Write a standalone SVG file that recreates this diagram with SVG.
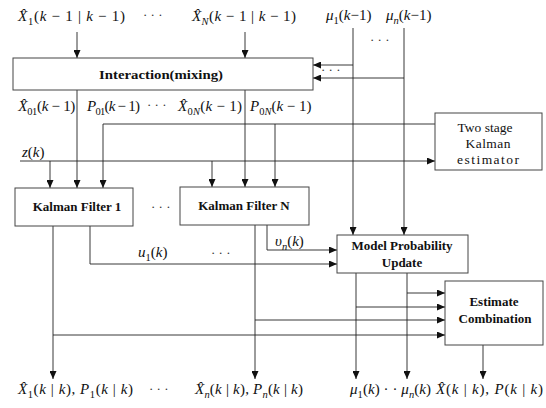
<svg xmlns="http://www.w3.org/2000/svg" width="546" height="408" viewBox="0 0 546 408">
<style>
.bx{fill:#fff;stroke:#444;stroke-width:1}
.ln{fill:none;stroke:#222;stroke-width:0.9}
.b{font-family:"Liberation Serif",serif;font-size:13px;font-weight:bold;fill:#111;text-anchor:middle}
.r{font-family:"Liberation Serif",serif;font-size:13.5px;fill:#111;text-anchor:middle}
.m{font-family:"Liberation Serif",serif;font-size:15px;fill:#111}
.i{font-style:italic}
.s{font-size:10.5px}
.d{font-family:"Liberation Serif",serif;font-size:13px;fill:#333}
</style>
<defs>
<marker id="a" viewBox="0 0 8 7" refX="8" refY="3.5" markerWidth="8" markerHeight="7" orient="auto" markerUnits="userSpaceOnUse">
<path d="M0,0 L8,3.5 L0,7 z" fill="#111"/>
</marker>
</defs>
<rect width="546" height="408" fill="#fff"/>

<g id="connectors">
<path class="ln" d="M77,32 V58" marker-end="url(#a)"/>
<path class="ln" d="M245,32 V58" marker-end="url(#a)"/>
<path class="ln" d="M353,28 V235" marker-end="url(#a)"/>
<path class="ln" d="M404,28 V235" marker-end="url(#a)"/>
<path class="ln" d="M353,65 H313" marker-end="url(#a)"/>
<path class="ln" d="M404,78 H313" marker-end="url(#a)"/>
<path class="ln" d="M77,90 V188" marker-end="url(#a)"/>
<path class="ln" d="M245,90 V187" marker-end="url(#a)"/>
<path class="ln" d="M103,124 H435"/>
<path class="ln" d="M103,124 V188" marker-end="url(#a)"/>
<path class="ln" d="M275,124 V187" marker-end="url(#a)"/>
<path class="ln" d="M20,161 H435" marker-end="url(#a)"/>
<path class="ln" d="M50,161 V188" marker-end="url(#a)"/>
<path class="ln" d="M212,161 V187" marker-end="url(#a)"/>
<path class="ln" d="M53,226 V379" marker-end="url(#a)"/>
<path class="ln" d="M53,335 H445" marker-end="url(#a)"/>
<path class="ln" d="M90,226 V264 H337" marker-end="url(#a)"/>
<path class="ln" d="M255,225 V379" marker-end="url(#a)"/>
<path class="ln" d="M255,320 H445" marker-end="url(#a)"/>
<path class="ln" d="M267,225 V250 H337" marker-end="url(#a)"/>
<path class="ln" d="M356,273 V379" marker-end="url(#a)"/>
<path class="ln" d="M356,307 H445" marker-end="url(#a)"/>
<path class="ln" d="M407,273 V379" marker-end="url(#a)"/>
<path class="ln" d="M407,293 H445" marker-end="url(#a)"/>
<path class="ln" d="M483,345 V379" marker-end="url(#a)"/>
</g>

<g id="interaction">
<rect class="bx" x="13" y="58" width="300" height="32"/>
<text class="b" x="161" y="79" font-size="14.5" textLength="124" lengthAdjust="spacingAndGlyphs">Interaction(mixing)</text>
</g>
<g id="two-stage">
<rect class="bx" x="435" y="113" width="107" height="57"/>
<text class="r" x="485" y="132">Two stage</text>
<text class="r" x="488" y="148" textLength="45" lengthAdjust="spacing">Kalman</text>
<text class="r" x="488" y="164" textLength="62" lengthAdjust="spacing">estimator</text>
</g>
<g id="kf1">
<rect class="bx" x="15" y="188" width="118" height="38"/>
<text class="b" x="77" y="211" font-size="13.5">Kalman Filter 1</text>
</g>
<g id="kfn">
<rect class="bx" x="180" y="187" width="129" height="38"/>
<text class="b" x="244" y="210" font-size="13.5">Kalman Filter N</text>
</g>
<g id="mpu">
<rect class="bx" x="337" y="235" width="131" height="38"/>
<text class="b" x="402" y="250" font-size="14">Model Probability</text>
<text class="b" x="402" y="267" font-size="14">Update</text>
</g>
<g id="ec">
<rect class="bx" x="445" y="281" width="98" height="64"/>
<text class="b" x="494" y="306" font-size="14">Estimate</text>
<text class="b" x="495" y="323" font-size="14">Combination</text>
</g>

<g id="labels">
<text class="m" x="18" y="21" textLength="107" lengthAdjust="spacing"><tspan class="i">X̂</tspan><tspan class="s" dy="4">1</tspan><tspan dy="-4">(</tspan><tspan class="i">k</tspan> − 1 | <tspan class="i">k</tspan> − 1)</text>
<text class="d" x="143" y="19">· · ·</text>
<text class="m" x="192" y="21" textLength="104" lengthAdjust="spacing"><tspan class="i">X̂</tspan><tspan class="s i" dy="4">N</tspan><tspan dy="-4">(</tspan><tspan class="i">k</tspan> − 1 | <tspan class="i">k</tspan> − 1)</text>
<text class="m" x="326" y="20"><tspan class="i">μ</tspan><tspan class="s" dy="4">1</tspan><tspan dy="-4">(</tspan><tspan class="i">k</tspan>−1)</text>
<text class="m" x="386" y="20"><tspan class="i">μ</tspan><tspan class="s i" dy="4">n</tspan><tspan dy="-4">(</tspan><tspan class="i">k</tspan>−1)</text>
<text class="d" x="370" y="44">· · ·</text>
<text class="d" x="321" y="74">· · ·</text>

<text class="m" x="18" y="111" textLength="57" lengthAdjust="spacing"><tspan class="i">X̂</tspan><tspan class="s" dy="4">01</tspan><tspan dy="-4">(</tspan><tspan class="i">k</tspan> − 1)</text>
<text class="m" x="87" y="111" textLength="53" lengthAdjust="spacing"><tspan class="i">P</tspan><tspan class="s" dy="4">01</tspan><tspan dy="-4">(</tspan><tspan class="i">k</tspan> − 1)</text>
<text class="d" x="147" y="109">· · ·</text>
<text class="m" x="178" y="111" textLength="64" lengthAdjust="spacing"><tspan class="i">X̂</tspan><tspan class="s" dy="4">0<tspan class="i">N</tspan></tspan><tspan dy="-4">(</tspan><tspan class="i">k</tspan> − 1)</text>
<text class="m" x="250" y="111"><tspan class="i">P</tspan><tspan class="s" dy="4">0<tspan class="i">N</tspan></tspan><tspan dy="-4">(</tspan><tspan class="i">k</tspan> − 1)</text>

<text class="m" x="22" y="157"><tspan class="i">z</tspan>(<tspan class="i">k</tspan>)</text>
<text class="d" x="151" y="211">· · ·</text>
<text class="m" x="138" y="257"><tspan class="i">u</tspan><tspan class="s" dy="4">1</tspan><tspan dy="-4">(</tspan><tspan class="i">k</tspan>)</text>
<text class="d" x="211" y="257">· · ·</text>
<text class="m" x="275" y="246"><tspan class="i">υ</tspan><tspan class="s i" dy="4">n</tspan><tspan dy="-4">(</tspan><tspan class="i">k</tspan>)</text>

<text class="m" x="18" y="394" textLength="115" lengthAdjust="spacing"><tspan class="i">X̂</tspan><tspan class="s" dy="4">1</tspan><tspan dy="-4">(</tspan><tspan class="i">k</tspan> | <tspan class="i">k</tspan>), <tspan class="i">P</tspan><tspan class="s" dy="4">1</tspan><tspan dy="-4">(</tspan><tspan class="i">k</tspan> | <tspan class="i">k</tspan>)</text>
<text class="d" x="149" y="393">· · ·</text>
<text class="m" x="195" y="394" textLength="108" lengthAdjust="spacing"><tspan class="i">X̂</tspan><tspan class="s i" dy="4">n</tspan><tspan dy="-4">(</tspan><tspan class="i">k</tspan> | <tspan class="i">k</tspan>), <tspan class="i">P</tspan><tspan class="s i" dy="4">n</tspan><tspan dy="-4">(</tspan><tspan class="i">k</tspan> | <tspan class="i">k</tspan>)</text>
<text class="m" x="350" y="394" textLength="81" lengthAdjust="spacing"><tspan class="i">μ</tspan><tspan class="s" dy="4">1</tspan><tspan dy="-4">(</tspan><tspan class="i">k</tspan>) · · <tspan class="i">μ</tspan><tspan class="s i" dy="4">n</tspan><tspan dy="-4">(</tspan><tspan class="i">k</tspan>)</text>
<text class="m" x="436" y="394" textLength="107" lengthAdjust="spacing"><tspan class="i">X̂</tspan>(<tspan class="i">k</tspan> | <tspan class="i">k</tspan>), <tspan class="i">P</tspan>(<tspan class="i">k</tspan> | <tspan class="i">k</tspan>)</text>
</g>
</svg>
